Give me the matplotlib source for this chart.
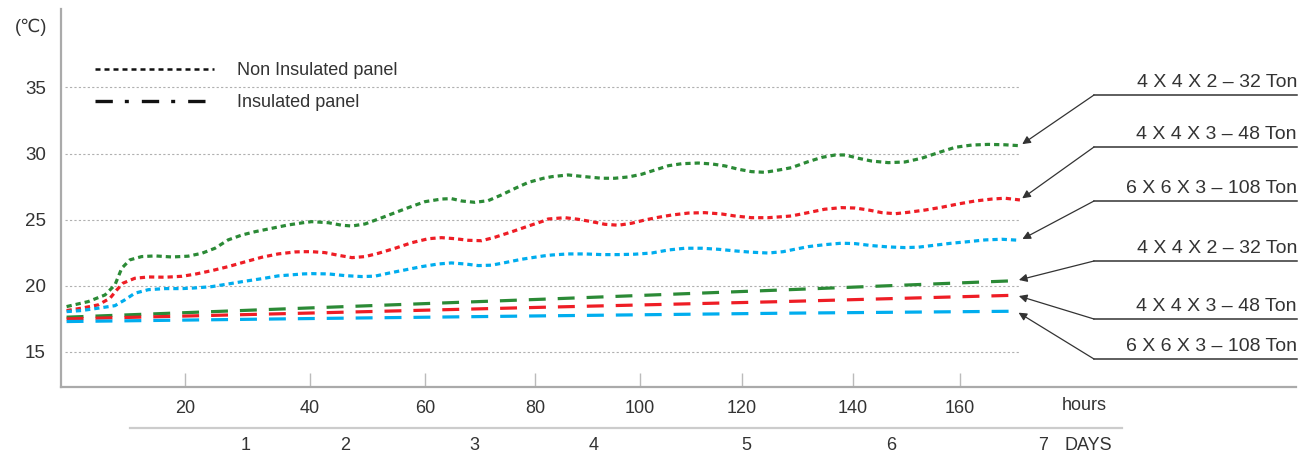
import numpy as np
import matplotlib
matplotlib.use("Agg")
import matplotlib.pyplot as plt
from matplotlib.lines import Line2D

plt.rcParams['font.family'] = ['Liberation Sans', 'DejaVu Sans']

# ---- data (hours, temperature in C) ----
hrs_green_dot = [0.9, 4.4, 7.1, 8.7, 9.8, 11.1, 13.0, 15.2, 17.9, 20.5,
                 22.7, 24.8, 26.9, 29.1, 31.2, 33.9, 36.5, 38.9, 40.3, 43.2,
                 45.5, 47.3, 49.6, 51.9, 54.8, 57.1, 60.0, 63.0, 64.8, 66.7,
                 69.1, 71.5, 73.9, 76.4, 78.8, 81.6, 83.2, 86.3, 89.5, 92.7,
                 95.2, 97.8, 100.3, 102.9, 105.6, 108.2, 111.4, 114.1, 116.7, 119.3,
                 121.7, 124.1, 125.9, 127.4, 128.9, 131.9, 134.4, 136.8, 138.6, 141.0,
                 143.5, 146.6, 149.7, 152.8, 155.9, 159.1, 162.2, 165.3, 168.4, 171.2]
green_dot = [18.43, 18.81, 19.31, 20.07, 21.33, 21.96, 22.21, 22.26, 22.18, 22.24,
             22.46, 22.84, 23.47, 23.84, 24.09, 24.35, 24.6, 24.77, 24.85, 24.77,
             24.58, 24.52, 24.68, 25.05, 25.53, 25.91, 26.36, 26.56, 26.59, 26.41,
             26.31, 26.44, 26.87, 27.37, 27.82, 28.13, 28.25, 28.38, 28.25, 28.13,
             28.13, 28.23, 28.43, 28.75, 29.08, 29.23, 29.28, 29.21, 29.06, 28.81,
             28.63, 28.58, 28.70, 28.81, 28.93, 29.38, 29.71, 29.89, 29.89, 29.64,
             29.43, 29.31, 29.36, 29.64, 30.06, 30.47, 30.64, 30.69, 30.66, 30.59]

hrs_red_dot = [0.9, 3.3, 6.0, 7.9, 9.0, 10.0, 11.9, 14.1, 16.8, 19.5,
               21.6, 24.3, 26.9, 29.6, 32.3, 34.9, 37.6, 38.9,
               40.3, 42.6, 44.9, 47.3, 49.6, 51.9, 54.8, 57.7, 60.6, 63.0,
               65.5, 67.9, 70.3, 72.7, 75.8, 78.8, 81.6,
               82.5, 85.7, 88.2, 90.8, 93.3, 95.9, 98.4, 101.0, 103.6, 106.2,
               109.5, 112.7, 116.0, 118.6, 121.7, 124.7, 127.4,
               128.9, 131.9, 134.9, 137.9, 140.4, 142.9, 145.4, 147.9, 150.4, 153.5,
               156.6, 159.7, 162.8, 166.0, 168.4, 171.2]
red_dot = [18.13, 18.31, 18.56, 19.06, 19.69, 20.2, 20.57, 20.67, 20.65, 20.72,
           20.88, 21.15, 21.45, 21.81, 22.16, 22.41, 22.56, 22.58,
           22.58, 22.51, 22.31, 22.13, 22.21, 22.46, 22.84, 23.26, 23.56, 23.64,
           23.56, 23.44, 23.41, 23.67, 24.09, 24.52, 24.9,
           25.05, 25.15, 25.03, 24.85, 24.65, 24.58, 24.73, 24.98, 25.18, 25.35,
           25.5, 25.53, 25.43, 25.28, 25.15, 25.15, 25.23,
           25.28, 25.53, 25.79, 25.91, 25.88, 25.73, 25.53, 25.45, 25.56, 25.73,
           25.94, 26.19, 26.41, 26.56, 26.62, 26.49]

hrs_blue_dot = [0.9, 3.3, 6.0, 8.7, 10.3, 11.9, 14.1, 16.8, 19.5,
                21.6, 24.3, 26.9, 29.6, 32.3, 34.9, 37.6, 38.9,
                40.3, 43.2, 46.1, 49.0, 51.3, 53.6, 56.5, 59.4, 62.4, 64.8,
                67.3, 69.7, 72.1, 74.5, 77.6, 81.6,
                83.2, 86.3, 89.5, 92.7, 95.9, 99.0, 102.3, 105.6, 108.8, 112.1,
                115.4, 118.6, 121.7, 124.7, 127.4,
                128.9, 131.9, 134.9, 137.9, 140.4, 143.5, 146.6, 149.7, 152.2, 155.3,
                158.4, 161.6, 164.7, 167.8, 171.2]
blue_dot = [18.05, 18.13, 18.31, 18.5, 18.94, 19.44, 19.71, 19.79, 19.79,
            19.84, 19.94, 20.14, 20.35, 20.54, 20.75, 20.85, 20.9,
            20.92, 20.9, 20.77, 20.7, 20.73, 20.95, 21.2, 21.45, 21.65, 21.73,
            21.65, 21.53, 21.56, 21.75, 22.01, 22.26,
            22.33, 22.41, 22.41, 22.36, 22.36, 22.39, 22.48, 22.71, 22.84, 22.84,
            22.76, 22.64, 22.54, 22.48, 22.58,
            22.71, 22.96, 23.11, 23.22, 23.19, 23.04, 22.94, 22.89, 22.92, 23.07,
            23.22, 23.34, 23.47, 23.52, 23.44]

hrs_dash = [0.9, 38.9, 81.6, 127.4, 170.5]
green_dash = [17.63, 18.31, 18.99, 19.69, 20.39]
red_dash = [17.5, 17.93, 18.38, 18.81, 19.29]
blue_dash = [17.3, 17.52, 17.73, 17.93, 18.08]

labels = ['4 X 4 X 2 \u2013 32 Ton', '4 X 4 X 3 \u2013 48 Ton', '6 X 6 X 3 \u2013 108 Ton']
legend_labels = ['Non Insulated panel', 'Insulated panel']
hour_ticks = [20, 40, 60, 80, 100, 120, 140, 160]
day_labels = ['1', '2', '3', '4', '5', '6', '7']
y_ticks = [15, 20, 25, 30, 35]

GREEN, RED, BLUE = '#2b8a36', '#ee1d25', '#00adee'
TXT = '#333333'
W, H = 1299, 457

fig = plt.figure(figsize=(W / 100, H / 100), dpi=100)
ax = fig.add_axes([61 / W, (H - 387.3) / H, (1296 - 61) / W, (387.3 - 9.3) / H])

# the hour axis in the original drawing is not evenly spaced
hour_knots = [0, 20, 40, 60, 80, 100, 120, 140, 160, 260]
pos_knots = [0, 124, 249, 364, 474, 579, 681, 792, 899, 1434]
ax.set_xscale('function', functions=(lambda x: np.interp(x, hour_knots, pos_knots),
                                     lambda p: np.interp(p, pos_knots, hour_knots)))
ax.set_xlim(0, 222.8)
ax.set_ylim(12.33, 40.9)

ax.hlines(y_ticks, 0.7, 171.2, colors='#b0b0b0', linestyles=(0, (2, 2)), lw=0.8)

dot = (0, (1.65, 1.25))
dash = (0, (5.3, 3.75))
series = [
    (hrs_green_dot, green_dot, GREEN, dot),
    (hrs_red_dot, red_dot, RED, dot),
    (hrs_blue_dot, blue_dot, BLUE, dot),
    (hrs_dash, green_dash, GREEN, dash),
    (hrs_dash, red_dash, RED, dash),
    (hrs_dash, blue_dash, BLUE, dash),
]
for h, v, c, ls in series:
    ax.plot(h, v, color=c, lw=2.3, linestyle=ls)

# spines / ticks
for s in ['top', 'right']:
    ax.spines[s].set_visible(False)
for s in ['left', 'bottom']:
    ax.spines[s].set_color('#aaaaaa')
    ax.spines[s].set_linewidth(1.6)
ax.set_yticks(y_ticks)
ax.tick_params(axis='y', length=0, pad=11, labelsize=13.5, labelcolor=TXT)
ax.set_xticks(hour_ticks)
ax.set_xticklabels([str(t) for t in hour_ticks])
ax.tick_params(axis='x', direction='in', length=10, width=1, color='#bbbbbb',
               pad=9, labelsize=13, labelcolor=TXT)

fig.text(31 / W, (H - 27) / H, '(\u2103)', ha='center', va='center', fontsize=13, color=TXT)
fig.text(1084 / W, (H - 406) / H, 'hours', ha='center', va='center', fontsize=13, color=TXT)

# days row
fig.add_artist(Line2D([130 / W, 1122 / W], [(H - 428) / H] * 2, color='#cccccc', lw=1.6))
day_x = [246, 345, 474, 594, 746, 891, 1043]
for lab, x in zip(day_labels, day_x):
    fig.text(x / W, (H - 446) / H, lab, ha='center', va='center', fontsize=13, color=TXT)
fig.text(1088 / W, (H - 446) / H, 'DAYS', ha='center', va='center', fontsize=13, color=TXT)

# legend
handles = [Line2D([], [], color='#111111', lw=1.8, linestyle=(0, (2.0, 1.6))),
           Line2D([], [], color='#111111', lw=2.4, linestyle=(0, (5.2, 3.6, 1.2, 3.9)))]
ax.legend(handles, legend_labels, loc='upper left', bbox_to_anchor=(95 / W, (H - 62) / H),
          bbox_transform=fig.transFigure, frameon=False, handlelength=6.6,
          handletextpad=1.25, borderpad=0, borderaxespad=0, labelspacing=0.85,
          fontsize=13, labelcolor=TXT)

# right-hand labels with arrows
line_y = [95, 147, 201, 261, 319, 359]
for (h, v, c, ls), lab, ly in zip(series, labels * 2, line_y):
    fig.add_artist(Line2D([1094 / W, 1297 / W], [(H - ly) / H] * 2, color=TXT, lw=1.1))
    fig.text(1297 / W, (H - ly + 4) / H, lab, ha='right', va='bottom', fontsize=14, color=TXT)
    ax.annotate('', xy=(h[-1], v[-1]), xycoords='data',
                xytext=(1094, H - ly), textcoords='figure pixels',
                arrowprops=dict(arrowstyle='-|>', color=TXT, lw=0.9,
                                shrinkA=0, shrinkB=2, mutation_scale=12),
                annotation_clip=False)

fig.savefig('out.png', dpi=100)
